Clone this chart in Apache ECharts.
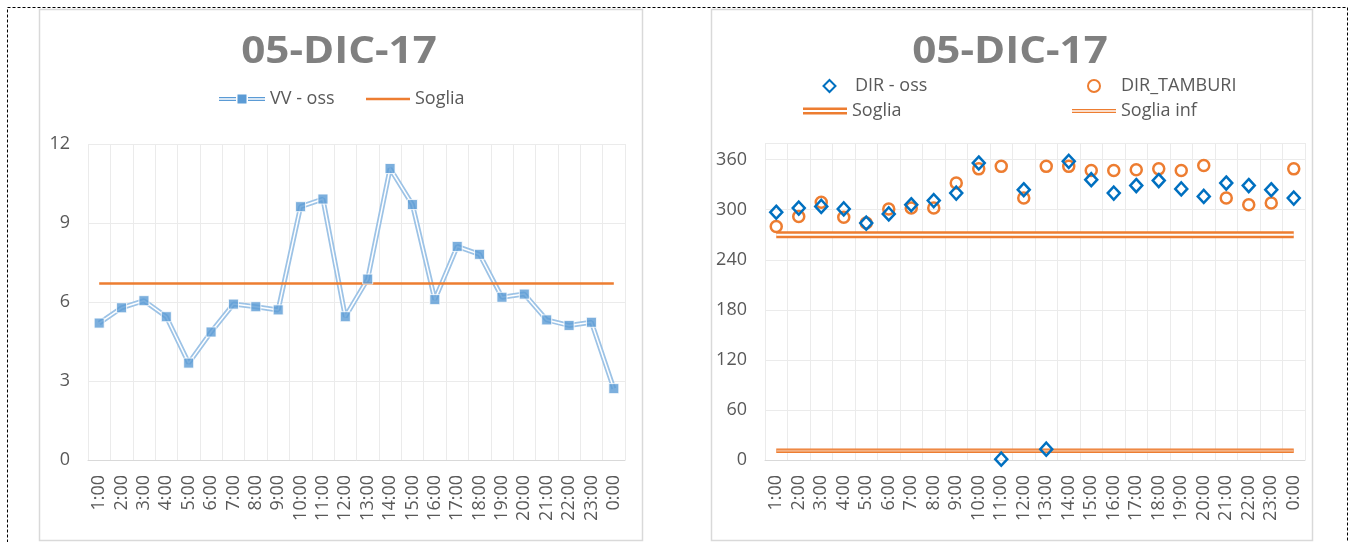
<html>
<head>
    <meta http-equiv="Content-Type" content="text/html; charset=utf-8">
    <script type="text/javascript" src="https://cdn.jsdelivr.net/npm/echarts@6/dist/echarts.min.js"></script>
    <style>
        html, body { margin: 0; padding: 0; background: #fff; }
        #main { width: 1353px; height: 542px; }
    </style>
</head>
<body>
<div id="main"></div>
<script type="text/javascript">
    var hours = ['1:00', '2:00', '3:00', '4:00', '5:00', '6:00', '7:00', '8:00', '9:00', '10:00', '11:00', '12:00',
        '13:00', '14:00', '15:00', '16:00', '17:00', '18:00', '19:00', '20:00', '21:00', '22:00', '23:00', '0:00'];

    // grafico sinistro: velocita vento
    var vvOss = [5.2, 5.78, 6.05, 5.44, 3.68, 4.86, 5.92, 5.82, 5.7, 9.62, 9.91, 5.44,
        6.87, 11.07, 9.7, 6.09, 8.11, 7.81, 6.18, 6.3, 5.32, 5.11, 5.23, 2.71];
    var sogliaVV = [6.7, 6.7, 6.7, 6.7, 6.7, 6.7, 6.7, 6.7, 6.7, 6.7, 6.7, 6.7,
        6.7, 6.7, 6.7, 6.7, 6.7, 6.7, 6.7, 6.7, 6.7, 6.7, 6.7, 6.7];
    var vvTicks = [0, 3, 6, 9, 12];

    // grafico destro: direzione vento
    var dirOss = [297, 302, 304, 301, 284, 295, 306, 311, 320, 356, 1, 324,
        13, 358, 336, 320, 329, 335, 325, 316, 332, 329, 324, 314];
    var dirTamburi = [280, 292, 309, 291, 284, 301, 302, 302, 332, 349, 352, 314,
        352, 352, 347, 347, 348, 349, 347, 353, 314, 306, 308, 349];
    var sogliaDir = [270, 270, 270, 270, 270, 270, 270, 270, 270, 270, 270, 270,
        270, 270, 270, 270, 270, 270, 270, 270, 270, 270, 270, 270];
    var sogliaInf = [11, 11, 11, 11, 11, 11, 11, 11, 11, 11, 11, 11,
        11, 11, 11, 11, 11, 11, 11, 11, 11, 11, 11, 11];
    var dirTicks = [0, 60, 120, 180, 240, 300, 360];

    var grigio = '#595959';
    var griglia = '#ebebeb';
    var arancio = '#ed7d31';

    function asseX(idx) {
        return {
            type: 'category', gridIndex: idx, data: hours, boundaryGap: true,
            axisTick: {show: false},
            axisLine: {lineStyle: {color: '#d9d9d9', width: 1}},
            axisLabel: {rotate: 90, interval: 0, margin: 15, fontSize: 18, color: grigio, fontFamily: 'Open Sans'},
            splitLine: {show: true, interval: 0, lineStyle: {color: griglia}}
        };
    }
    function asseY(idx, ticks, max) {
        return {
            type: 'value', gridIndex: idx, min: ticks[0], max: max, interval: ticks[1] - ticks[0],
            axisLine: {show: false}, axisTick: {show: false},
            axisLabel: {margin: 18, fontSize: 18, color: grigio, fontFamily: 'Open Sans', showMaxLabel: max === ticks[ticks.length - 1]},
            splitLine: {lineStyle: {color: griglia}}
        };
    }
    function legenda(left, top, name, icon, w, h) {
        return {
            left: left, top: top, padding: 0, itemGap: 0, itemWidth: w, itemHeight: h,
            selectedMode: false,
            data: [{name: name, icon: icon}],
            lineStyle: {opacity: 0},
            textStyle: {fontSize: 18, color: grigio, fontFamily: 'Open Sans', lineHeight: 20}
        };
    }
    // titolo spaziato come in Excel (testo allargato)
    function titolo(x) {
        return {
            type: 'text', x: x, y: 33, scaleX: 1.11, silent: true,
            style: {text: '05-DIC-17', fill: '#808080', font: 'bold 38px "Open Sans"', align: 'center', verticalAlign: 'top'}
        };
    }

    var myChart = echarts.init(document.getElementById('main'), null, {renderer: 'canvas'});
    var option = {
        animation: false,
        backgroundColor: '#fff',
        textStyle: {fontFamily: 'Open Sans'},
        graphic: [
            {type: 'rect', z: -10, silent: true, shape: {x: 7.5, y: 7.5, width: 1340, height: 600},
                style: {fill: '#fff', stroke: '#000', lineWidth: 1, lineDash: [3, 2]}},
            {type: 'rect', z: -9, silent: true, shape: {x: 39.5, y: 9.5, width: 603, height: 531},
                style: {fill: '#fff', stroke: '#d9d9d9', lineWidth: 1.5}},
            {type: 'rect', z: -9, silent: true, shape: {x: 711.5, y: 9.5, width: 601, height: 531},
                style: {fill: '#fff', stroke: '#d9d9d9', lineWidth: 1.5}},
            titolo(339),
            titolo(1010)
        ],
        legend: [
            legenda(219, 89, 'VV - oss',
                'path://M0,2.5H17V3.7H0Z M0,5.3H17V6.5H0Z M18.5,0H27.5V9H18.5Z M29,2.5H46V3.7H29Z M29,5.3H46V6.5H29Z', 46, 9),
            legenda(366, 89, 'Soglia', 'path://M0,0H44V2.5H0Z', 44, 2.5),
            legenda(809, 76, 'DIR - oss', null, 41, 15),
            legenda(1072, 76, 'DIR_TAMBURI', null, 44, 15),
            legenda(803, 101, 'Soglia', 'path://M0,0H44V2.4H0Z M0,4.6H44V7H0Z', 44, 7),
            legenda(1072, 101, 'Soglia inf', 'path://M0,0H44V1.3H0Z M0,2.7H44V4H0Z', 44, 4)
        ],
        grid: [
            {left: 88, top: 144, width: 537, height: 316},
            {left: 765, top: 143, width: 540, height: 317}
        ],
        xAxis: [asseX(0), asseX(1)],
        yAxis: [asseY(0, vvTicks, 12), asseY(1, dirTicks, 380)],
        series: [
            {
                name: 'VV - oss', type: 'line', xAxisIndex: 0, yAxisIndex: 0, data: vvOss,
                symbol: 'none', z: 2,
                itemStyle: {color: '#5b9bd5'},
                lineStyle: {color: '#9dc3e6', width: 5}
            },
            {
                name: 'vv-interno', type: 'line', xAxisIndex: 0, yAxisIndex: 0, data: vvOss,
                symbol: 'none', z: 3, silent: true,
                lineStyle: {color: '#fff', width: 1.5}
            },
            {
                name: 'vv-punti', type: 'scatter', xAxisIndex: 0, yAxisIndex: 0, data: vvOss,
                symbol: 'rect', symbolSize: 10, z: 4,
                itemStyle: {color: '#5b9bd5', borderColor: '#fff', borderWidth: 1}
            },
            {
                name: 'Soglia', type: 'line', xAxisIndex: 0, yAxisIndex: 0, data: sogliaVV,
                symbol: 'none', z: 3,
                itemStyle: {color: arancio},
                lineStyle: {color: arancio, width: 2.5}
            },
            {
                name: 'Soglia', type: 'line', xAxisIndex: 1, yAxisIndex: 1, data: sogliaDir,
                symbol: 'none', z: 2,
                itemStyle: {color: arancio},
                lineStyle: {color: arancio, width: 7}
            },
            {
                name: 'soglia-interno', type: 'line', xAxisIndex: 1, yAxisIndex: 1, data: sogliaDir,
                symbol: 'none', z: 3,
                lineStyle: {color: '#fff', width: 2.2}
            },
            {
                name: 'Soglia inf', type: 'line', xAxisIndex: 1, yAxisIndex: 1, data: sogliaInf,
                symbol: 'none', z: 2,
                itemStyle: {color: arancio},
                lineStyle: {color: arancio, width: 4.5}
            },
            {
                name: 'soglia-inf-interno', type: 'line', xAxisIndex: 1, yAxisIndex: 1, data: sogliaInf,
                symbol: 'none', z: 3,
                lineStyle: {color: '#f4b183', width: 2}
            },
            {
                name: 'DIR_TAMBURI', type: 'line', xAxisIndex: 1, yAxisIndex: 1, data: dirTamburi,
                symbol: 'circle', symbolSize: 11, z: 5, showSymbol: true,
                itemStyle: {color: 'rgba(255,255,255,0)', borderColor: arancio, borderWidth: 2.5},
                lineStyle: {width: 0, opacity: 0, color: arancio}
            },
            {
                name: 'DIR - oss', type: 'line', xAxisIndex: 1, yAxisIndex: 1, data: dirOss,
                symbol: 'diamond', symbolSize: [12, 13], z: 6, showSymbol: true,
                itemStyle: {color: 'rgba(255,255,255,0)', borderColor: '#0070c0', borderWidth: 2.5},
                lineStyle: {width: 0, opacity: 0, color: '#0070c0'}
            }
        ]
    };
    myChart.setOption(option);
</script>
</body>
</html>
